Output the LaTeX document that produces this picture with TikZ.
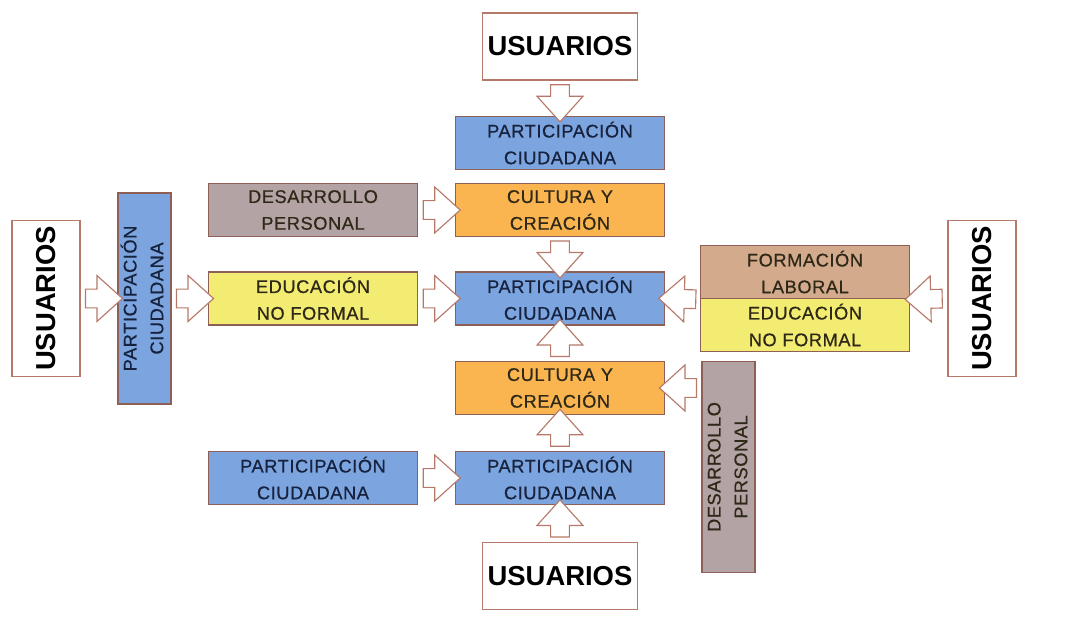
\documentclass[tikz,border=0pt]{standalone}
\usepackage{fontspec}
\setmainfont{Liberation Sans}
\newfontfamily\boxfont[LetterSpace=3,FakeBold=0.6]{Liberation Sans}
\usetikzlibrary{positioning,shapes.arrows,calc}
\definecolor{partblue}{HTML}{7CA4DE}
\definecolor{cultorange}{HTML}{FAB550}
\definecolor{eduyellow}{HTML}{F3EC72}
\definecolor{desmauve}{HTML}{B4A3A4}
\definecolor{formtan}{HTML}{D4AA8C}
\definecolor{edgebrown}{HTML}{8E5F55}
\definecolor{arrowbrown}{HTML}{B67868}
\definecolor{inkblue}{HTML}{16223E}
\definecolor{inkbrown}{HTML}{2E2818}
\newcommand{\vtext}[2]{\rotatebox{90}{\begin{tabular}{@{}c@{}}#1\\#2\end{tabular}}}

\begin{document}
\begin{tikzpicture}[
    x=0.025cm, y=-0.025cm,                                           % 1 unite = 1 pixel
    box/.style={draw=edgebrown, line width=1.2pt, inner sep=0pt, align=center,
                minimum width=5.225cm, minimum height=1.325cm,
                font=\boxfont\fontsize{13}{19}\selectfont},
    vbox/.style={box, minimum width=1.325cm, minimum height=5.275cm},
    part/.style={fill=partblue, text=inkblue},
    cult/.style={fill=cultorange, text=inkbrown},
    edu/.style={fill=eduyellow, text=inkbrown},
    des/.style={fill=desmauve, text=inkbrown},
    form/.style={fill=formtan, text=inkbrown},
    usr/.style={draw=arrowbrown, line width=0.8pt, fill=white, inner sep=0pt,
                minimum width=3.875cm, minimum height=1.675cm,
                font=\bfseries\fontsize{19.5}{22}\selectfont},
    usrv/.style={usr, minimum width=1.7cm, minimum height=3.9cm},
    flecha/.style={single arrow, draw=arrowbrown, fill=white, line width=0.8pt,
                   inner sep=0pt, inner ysep=0.22cm, single arrow head extend=0.34cm,
                   single arrow tip angle=84,
                   minimum height=0.925cm, midway, sloped, allow upside down}
  ]
  \fill[white] (0,0) rectangle (1088,624);
  \useasboundingbox (0,0) rectangle (1088,624);

  % ============ colonne centrale ========================================
  \node[usr] (usrtop) at (560,46.5) {USUARIOS};
  \node[box, part] (partop) at (560,143) {PARTICIPACIÓN\\CIUDADANA};
  \node[box, cult] (cultop) at (560,210) {CULTURA Y\\CREACIÓN};
  \node[box, part] (partc) at (560,298.5) {PARTICIPACIÓN\\CIUDADANA};
  \node[box, cult] (cultbot) at (560,388) {CULTURA Y\\CREACIÓN};
  \node[box, part] (partbot) at (560,478) {PARTICIPACIÓN\\CIUDADANA};
  \node[usr] (usrbot) at (560,576) {USUARIOS};

  % ============ lado izquierdo ==========================================
  \node[usrv] (usrl) at (46,298.5) {\rotatebox{90}{USUARIOS}};
  \node[vbox, part] (partv) at (144.5,298.5) {\vtext{PARTICIPACIÓN}{CIUDADANA}};
  \node[box, des] (desl) at (313,210) {DESARROLLO\\PERSONAL};
  \node[box, edu] (edul) at (313,298.5) {EDUCACIÓN\\NO FORMAL};
  \node[box, part] (partbl) at (313,478) {PARTICIPACIÓN\\CIUDADANA};

  % ============ lado derecho ============================================
  \node[usrv] (usrr) at (982,298.5) {\rotatebox{90}{USUARIOS}};
  \node[box, form] (formr) at (805,272) {FORMACIÓN\\LABORAL};
  \node[box, edu] (edur) at (805,325) {EDUCACIÓN\\NO FORMAL};
  \node[vbox, des] (desv) at (728.5,467) {\vtext{DESARROLLO}{PERSONAL}};

  % ============ flechas huecas ==========================================
  \path (usrtop.south) -- (partop.north) node[flecha] {};
  \path (cultop.south) -- (partc.north) node[flecha] {};
  \path (cultbot.north) -- (partc.south) node[flecha] {};
  \path (partbot.north) -- (cultbot.south) node[flecha] {};
  \path (usrbot.north) -- (partbot.south) node[flecha] {};

  \path (usrl.east) -- (partv.west) node[flecha] {};
  \path (partv.east) -- (edul.west) node[flecha] {};
  \path (desl.east) -- (cultop.west) node[flecha] {};
  \path (edul.east) -- (partc.west) node[flecha] {};
  \path (partbl.east) -- (partbot.west) node[flecha] {};

  \path (usrr.west) -- (formr.south east) node[flecha] {};
  \path (formr.south west) -- (partc.east) node[flecha] {};
  \path (desv.west |- cultbot.east) -- (cultbot.east) node[flecha] {};

\end{tikzpicture}
\end{document}
